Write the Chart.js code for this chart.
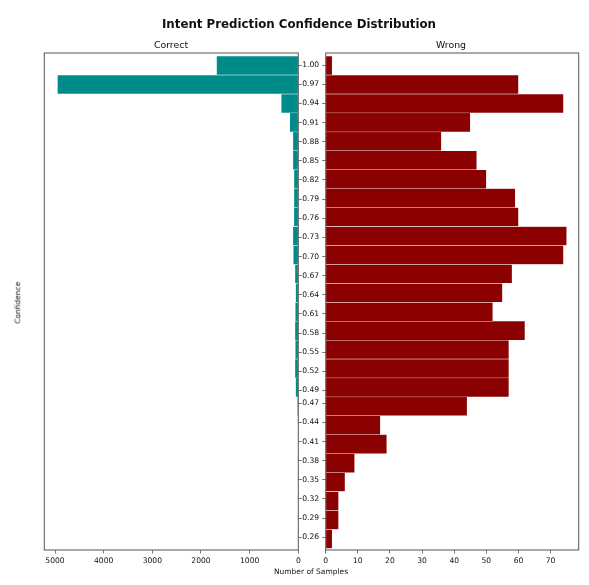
<!DOCTYPE html>
<html>
<head>
<meta charset="utf-8">
<script src="https://cdn.jsdelivr.net/npm/chart.js@4.4.1/dist/chart.umd.min.js"></script>
<style>
  body { margin: 0; background: #fff; }
  #wrap { position: relative; width: 589px; height: 585px; overflow: hidden; font-family: "DejaVu Sans", sans-serif; color: #111; }
  canvas { position: absolute; top: 0; }
  .txt { position: absolute; white-space: nowrap; line-height: 1; }
</style>
</head>
<body>
<div id="wrap">
  <canvas id="left" width="305" height="585" style="left:0"></canvas>
  <canvas id="right" width="294" height="585" style="left:295px"></canvas>
  <div class="txt" style="left:99px;width:400px;top:19px;text-align:center;font-size:11.8px;font-weight:bold;">Intent Prediction Confidence Distribution</div>
  <div class="txt" style="left:71px;width:200px;top:40.3px;text-align:center;font-size:9.4px;">Correct</div>
  <div class="txt" style="left:351px;width:200px;top:40.3px;text-align:center;font-size:9.4px;">Wrong</div>
  <div class="txt" style="left:211px;width:200px;top:567.7px;text-align:center;font-size:7.5px;">Number of Samples</div>
  <div class="txt" style="left:-82px;width:200px;top:299px;text-align:center;font-size:7.5px;transform:rotate(-90deg);">Confidence</div>
</div>
<script>
// histogram bin centres (confidence), shared by both panels
const binCenters = [0.2575, 0.2872, 0.3168, 0.3465, 0.3762, 0.4059, 0.4355, 0.4652, 0.4949,
  0.5245, 0.5542, 0.5839, 0.6135, 0.6432, 0.6729, 0.7026, 0.7322, 0.7619, 0.7916,
  0.8212, 0.8509, 0.8806, 0.9102, 0.9399, 0.9696, 0.9993];
const correctCounts = [0, 0, 0, 0, 0, 0, 0, 15, 55, 68, 62, 68, 62, 55, 68, 103, 110, 90, 88,
  88, 110, 110, 175, 350, 4950, 1680];
const wrongCounts = [2, 4, 4, 6, 9, 19, 17, 44, 57, 57, 57, 62, 52, 55, 58, 74, 75, 60, 59,
  50, 47, 36, 45, 74, 60, 2];
const yTicks = [1.00, 0.97, 0.94, 0.91, 0.88, 0.85, 0.82, 0.79, 0.76, 0.73, 0.70, 0.67, 0.64,
  0.61, 0.58, 0.55, 0.52, 0.49, 0.47, 0.44, 0.41, 0.38, 0.35, 0.32, 0.29, 0.26];
const correctTicks = [0, 1000, 2000, 3000, 4000, 5000];
const wrongTicks = [0, 10, 20, 30, 40, 50, 60, 70];

const Y_MIN = 0.240, Y_MAX = 1.019;
const AXIS = "#555";
const FONT = { family: "DejaVu Sans", size: 7.6 };

const boxPlugin = {
  id: "box",
  afterDraw(chart) {
    const { ctx, chartArea: a } = chart;
    ctx.save();
    ctx.strokeStyle = AXIS;
    ctx.lineWidth = 1;
    ctx.strokeRect(a.left, a.top, a.right - a.left, a.bottom - a.top);
    ctx.restore();
  }
};

function fixed(values) {
  return (scale) => { scale.ticks = values.map((v) => ({ value: v })); };
}

function makeChart(id, counts, color, xMax, xTicks, left) {
  const ctx = document.getElementById(id).getContext("2d");
  return new Chart(ctx, {
    type: "bar",
    data: {
      datasets: [{
        data: binCenters.map((y, i) => ({ x: counts[i], y: y })),
        backgroundColor: color,
        borderColor: "#fff",
        borderWidth: 0.5,
        barThickness: 18.93,
      }],
    },
    options: {
      indexAxis: "y",
      responsive: false,
      animation: false,
      layout: left
        ? { padding: { left: 44.3, top: 53, right: 2.7, bottom: 15 } }
        : { padding: { left: 3.7, top: 53, right: 10.3, bottom: 15 } },
      plugins: { legend: { display: false }, tooltip: { enabled: false } },
      scales: {
        x: {
          type: "linear",
          reverse: left,
          min: 0,
          max: xMax,
          afterBuildTicks: fixed(xTicks),
          afterFit: (s) => { s.height = 20; },
          border: { display: false },
          grid: { drawOnChartArea: false, drawTicks: true, tickLength: 3.5, color: AXIS, lineWidth: 0.8 },
          ticks: {
            font: FONT, color: "#111", padding: 3, maxRotation: 0, autoSkip: false,
            callback: (v) => String(v),
          },
        },
        y: {
          type: "linear",
          position: left ? "right" : "left",
          offset: false,
          min: Y_MIN,
          max: Y_MAX,
          afterBuildTicks: fixed(yTicks),
          afterFit: (s) => { s.width = left ? 4 : 27; },
          border: { display: false },
          grid: { offset: false, drawOnChartArea: false, drawTicks: true, tickLength: 3.5, color: AXIS, lineWidth: 0.8 },
          ticks: {
            display: !left,
            font: FONT,
            color: "#111",
            padding: 3,
            autoSkip: false,
            callback: (v) => Number(v).toFixed(2),
          },
        },
      },
    },
    plugins: [boxPlugin],
  });
}

makeChart("left", correctCounts, "#008B8B", 5220, correctTicks, true);
makeChart("right", wrongCounts, "#8B0000", 78.75, wrongTicks, false);
</script>
</body>
</html>
